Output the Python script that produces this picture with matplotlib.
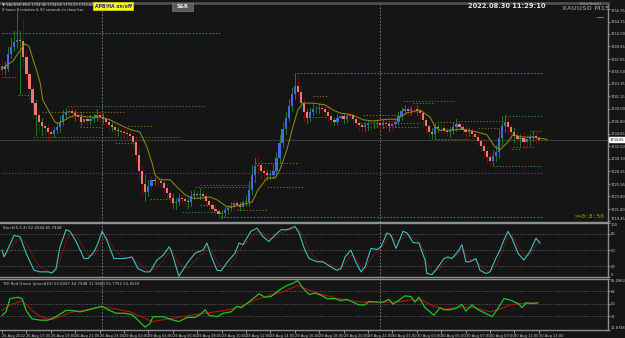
import matplotlib
matplotlib.use("Agg")
import matplotlib.pyplot as plt
from matplotlib.patches import Rectangle
from matplotlib.lines import Line2D
from matplotlib.transforms import blended_transform_factory

W, H = 625, 338
BG = '#151515'

# ---- price data (M15 bars, heikin ashi style closes) ----
first_open = 1745.8
closes = [
    1746.5, 1746.0, 1748.5, 1749.8, 1750.6, 1751.0, 1750.8, 1748.0, 1745.0, 1742.5,
    1740.0, 1738.0, 1736.8, 1736.0, 1735.6, 1735.0, 1734.7, 1735.3, 1735.8, 1736.8,
    1738.0, 1738.5, 1738.6, 1738.2, 1737.9, 1737.6, 1736.8, 1737.2, 1736.9, 1737.3,
    1737.5, 1738.0, 1737.6, 1737.3, 1736.8, 1736.2, 1735.8, 1735.4, 1735.2, 1735.0,
    1734.8, 1734.6, 1734.3, 1733.2, 1731.0, 1728.3, 1726.0, 1724.6, 1725.6, 1726.6,
    1726.4, 1726.5, 1726.2, 1725.3, 1724.4, 1723.6, 1722.7, 1722.9, 1723.5, 1723.3,
    1723.0, 1722.8, 1723.8, 1724.2, 1724.0, 1724.3, 1723.9, 1723.0, 1722.3, 1721.7,
    1721.2, 1720.8, 1721.0, 1721.4, 1721.8, 1722.2, 1722.6, 1722.3, 1722.0, 1722.8,
    1722.9, 1725.0, 1727.5, 1729.0, 1729.2, 1728.3, 1727.8, 1727.5, 1727.6, 1728.2,
    1730.5, 1733.0, 1735.5, 1737.5, 1739.5, 1741.5, 1743.0, 1742.0, 1740.0, 1738.4,
    1737.5, 1738.5, 1739.0, 1738.9, 1739.2, 1739.0, 1738.5, 1737.8, 1737.0, 1736.8,
    1737.5, 1737.7, 1737.3, 1737.8, 1737.9, 1737.2, 1736.5, 1736.2, 1735.8, 1736.2,
    1736.4, 1736.3, 1736.4, 1736.5, 1736.2, 1736.6, 1736.4, 1736.0, 1736.4, 1736.8,
    1737.8, 1738.6, 1739.0, 1738.6, 1738.9, 1739.0, 1738.7, 1738.2, 1737.0, 1736.0,
    1735.0, 1734.6, 1735.8, 1735.6, 1735.7, 1735.2, 1735.0, 1735.2, 1735.8, 1736.4,
    1735.9, 1735.4, 1734.9, 1735.2, 1734.7, 1734.2, 1733.5, 1732.6, 1731.6, 1730.6,
    1730.0, 1730.9, 1731.5, 1734.0, 1736.0, 1736.7, 1735.8, 1735.0, 1734.3, 1733.8,
    1733.9, 1733.2, 1733.7, 1734.1, 1734.3, 1733.9, 1733.65,
]
wick_up = [
    0.8, 0.6, 1.2, 1.5, 2.0, 5.0, 1.5, 4.0, 1.0, 0.8,
    0.6, 0.5, 0.8, 0.6, 0.5, 0.8, 0.5, 0.6, 0.7, 0.9,
    0.8, 0.6, 0.5, 0.7, 0.6, 0.5, 0.8, 0.6, 0.5, 0.7,
    0.6, 1.0, 0.5, 0.6, 0.5, 0.7, 0.5, 0.6, 0.4, 0.5,
    0.6, 0.5, 0.5, 0.7, 0.9, 1.2, 1.0, 1.5, 1.0, 0.8,
    0.6, 0.5, 0.7, 0.5, 0.6, 0.5, 0.7, 0.6, 0.8, 0.5,
    0.6, 0.5, 1.0, 0.8, 0.6, 0.9, 0.6, 0.5, 0.7, 0.5,
    0.6, 0.4, 0.5, 0.6, 0.5, 0.7, 0.6, 0.5, 0.6, 0.5,
    1.2, 1.5, 1.8, 1.5, 1.6, 1.0, 0.8, 0.7, 0.6, 1.2,
    1.0, 1.4, 1.2, 1.0, 1.3, 1.2, 2.2, 1.5, 1.0, 0.8,
    0.6, 0.7, 0.8, 0.5, 0.6, 0.5, 0.7, 0.6, 0.5, 0.5,
    0.6, 0.5, 0.6, 0.5, 0.7, 0.5, 0.6, 0.5, 0.4, 0.5,
    0.6, 0.5, 0.5, 0.6, 0.5, 0.7, 0.5, 0.5, 0.6, 0.5,
    0.6, 0.8, 0.7, 0.5, 0.6, 0.5, 0.6, 0.5, 0.5, 0.5,
    0.5, 0.6, 0.8, 0.5, 0.6, 0.5, 0.5, 0.6, 0.7, 0.8,
    0.5, 0.5, 0.6, 0.5, 0.5, 0.5, 0.6, 0.5, 0.5, 0.6,
    0.7, 0.9, 1.2, 1.5, 1.8, 1.3, 0.8, 0.6, 0.7, 0.9,
    0.8, 1.0, 0.7, 0.6, 0.8, 0.5, 0.4,
]
wick_dn = [
    0.8, 1.0, 0.5, 0.6, 0.8, 1.0, 9.3, 1.5, 1.2, 2.0,
    2.5, 3.5, 1.8, 1.5, 1.2, 1.5, 1.3, 0.6, 0.5, 0.8,
    0.6, 0.7, 0.5, 0.8, 1.0, 0.6, 0.8, 0.5, 0.7, 0.6,
    0.5, 0.6, 0.8, 0.7, 0.9, 1.0, 0.6, 1.5, 0.8, 1.2,
    0.7, 0.8, 0.6, 0.8, 1.0, 1.5, 1.8, 1.6, 0.8, 0.6,
    0.7, 0.6, 0.8, 1.0, 1.2, 0.8, 0.9, 1.0, 0.6, 0.7,
    0.8, 1.0, 0.6, 0.5, 0.7, 0.6, 0.8, 0.7, 0.9, 0.8,
    0.7, 0.9, 0.8, 0.7, 0.6, 0.5, 0.6, 0.8, 0.6, 0.5,
    0.6, 0.7, 0.8, 1.2, 1.0, 1.5, 1.2, 0.8, 0.7, 0.6,
    0.8, 0.9, 0.7, 0.8, 0.6, 0.8, 0.7, 1.0, 1.2, 1.5,
    0.9, 0.6, 0.5, 0.7, 0.6, 0.8, 0.7, 0.9, 0.8, 0.6,
    0.5, 0.6, 0.7, 0.5, 0.6, 0.8, 0.7, 0.9, 0.8, 0.6,
    0.8, 0.6, 0.7, 0.5, 0.8, 0.6, 0.7, 0.8, 0.5, 0.6,
    0.6, 0.7, 0.5, 0.8, 0.6, 0.5, 0.7, 0.9, 1.0, 1.2,
    1.0, 0.8, 0.9, 0.7, 0.8, 0.6, 0.7, 0.8, 0.6, 0.7,
    0.8, 0.7, 0.9, 0.6, 0.8, 0.7, 0.8, 0.9, 1.0, 1.2,
    1.0, 0.8, 0.9, 1.0, 1.2, 1.0, 1.2, 1.5, 1.0, 0.9,
    1.2, 1.0, 0.8, 0.9, 0.7, 0.8, 0.5,
]
# direction of the real candle behind each HA body: u = up (green), d = down (red)
real_dir = ("duuuuuuddd" "dududdduuu" "uuddududdu" "uududdudud" "ddddddduud"
            "uddddduuud" "duuududddd" "dduuuuddud" "uuuuddduuu" "uuuuuuuddd"
            "uuuuuddddu" "uduudddddu" "uduudududu" "uuudududdd" "duuuddduuu"
            "dddudddddd" "duuuuuddud" "udduudd")

ma_bar = [0, 3.6, 5.6, 7.5, 8.9, 10.2, 11.5, 12.5, 13.4, 15.7, 17.4, 18.4, 20.7, 22.3,
          24.6, 27.9, 32.1, 35.4, 38.7, 42.6, 45.2, 47.5, 49.2, 50.2, 51.8, 55.1, 57.4,
          60.0, 62.3, 64.9, 68.2, 70.5, 73.8, 75.7, 78.0, 82.0, 83.9, 86.9, 89.5, 91.1,
          93.4, 95.4, 97.0, 98.7, 102.0, 105.9, 108.5, 110.8, 115.1, 118.4, 121.6, 126.2,
          129.5, 132.8, 137.0, 140.3, 142.0, 143.6, 146.9, 151.1, 155.7, 159.0, 161.6,
          163.3, 165.6, 167.5, 170.8, 174.1, 178.7]
ma_val = [1746.0, 1747.3, 1748.9, 1750.3, 1749.8, 1747.5, 1745.4, 1743.5, 1740.5, 1738.3,
          1736.7, 1736.5, 1737.1, 1737.6, 1737.9, 1737.6, 1737.6, 1737.1, 1736.2, 1735.3,
          1735.0, 1732.4, 1729.6, 1727.5, 1726.7, 1726.7, 1725.4, 1724.1, 1723.5, 1723.5,
          1723.7, 1723.2, 1722.0, 1722.0, 1722.3, 1722.8, 1724.9, 1727.0, 1727.0, 1728.4,
          1731.9, 1735.9, 1738.8, 1740.0, 1740.0, 1739.7, 1738.8, 1738.3, 1737.9, 1737.1,
          1736.9, 1737.2, 1737.2, 1738.3, 1738.8, 1737.6, 1735.9, 1735.3, 1735.3, 1735.5,
          1735.0, 1734.5, 1732.4, 1731.9, 1733.1, 1734.5, 1734.1, 1734.1, 1733.7]

price_ticks = [1719.45, 1721.60, 1723.80, 1725.95, 1728.15, 1730.30, 1732.50, 1734.65,
               1736.80, 1739.00, 1741.15, 1743.35, 1745.50, 1747.65, 1749.85, 1752.00,
               1754.15, 1756.35]
last_price = 1733.65

# support / resistance dotted levels: (price, from bar, to bar, kind)
levels = [
    (1752.2, 0, 71.5, 'cyan'), (1745.2, 96.7, 177, 'cyan'), (1720.2, 71.5, 177, 'cyan'),
    (1727.9, 0, 177, 'purple'),
    (1739.5, 21.3, 66.6, 'green'), (1734.1, 10.2, 58.4, 'green'),
    (1744.5, 0, 5, 'brown'), (1741.4, 5.2, 9.2, 'brown'), (1738.5, 13.1, 40.3, 'brown'),
    (1735.9, 25.6, 32.1, 'brown'), (1736.0, 41.3, 49.5, 'brown'), (1733.1, 37.0, 44.3, 'brown'),
    (1725.4, 63.3, 81.3, 'brown'), (1725.8, 65.0, 81.3, 'green'), (1723.4, 48.5, 56.1, 'brown'),
    (1721.1, 59.0, 71.5, 'green'), (1722.3, 65.0, 70.0, 'brown'), (1729.6, 83.0, 96.7, 'brown'),
    (1725.4, 86.9, 98.7, 'brown'), (1721.4, 77.0, 86.9, 'brown'), (1741.2, 102.0, 107.2, 'brown'),
    (1737.6, 98.7, 106.6, 'brown'), (1737.9, 118.4, 130.5, 'brown'), (1736.6, 116.4, 137.0, 'green'),
    (1735.9, 119.7, 137.0, 'brown'), (1740.3, 131.5, 148.5, 'green'), (1740.0, 134.8, 142.0, 'brown'),
    (1736.7, 142.6, 148.5, 'brown'), (1736.9, 149.5, 165.0, 'green'), (1737.8, 165.3, 177.0, 'green'),
    (1735.7, 156.1, 163.3, 'brown'), (1733.8, 142.0, 153.4, 'green'), (1735.2, 173.1, 177.0, 'brown'),
    (1732.4, 167.5, 174.0, 'green'), (1732.0, 167.2, 169.8, 'brown'), (1729.0, 161.0, 177.0, 'green'),
]

# ---- stochastic ----
stoch_bar = [0, 0.7, 2.6, 3.9, 5.9, 7.9, 10.5, 12.5, 15.1, 16.4, 17.7, 19.0, 21.0, 22.3,
             24.3, 26.9, 28.2, 30.2, 31.5, 32.8, 34.1, 36.7, 40.0, 42.6, 44.6, 46.9, 48.5,
             50.8, 52.8, 54.8, 55.4, 58.0, 60.7, 63.3, 65.9, 67.2, 68.5, 70.5, 71.8, 74.4,
             76.4, 77.7, 79.0, 81.6, 83.6, 85.6, 87.5, 89.5, 91.5, 93.4, 96.1, 97.4, 99.3,
             100.7, 103.3, 105.2, 107.9, 109.8, 111.1, 112.5, 114.4, 115.7, 117.7, 119.0,
             121.0, 123.0, 124.3, 126.2, 127.5, 129.2, 131.5, 132.8, 134.8, 136.7, 138.7,
             139.3, 141.0, 143.0, 144.9, 146.2, 147.5, 149.5, 150.8, 152.1, 153.4, 155.4,
             156.7, 158.7, 160.0, 161.9, 163.3, 164.6, 165.9, 167.2, 169.2, 171.1, 173.1,
             175.1, 176.4]
stoch_k = [50, 37, 60, 77, 75, 44, 12, 9, 9, 7, 15, 56, 88, 85, 66, 34, 34, 47, 63, 85,
           72, 34, 34, 37, 15, 9, 9, 31, 40, 56, 50, 1, 25, 44, 50, 63, 40, 12, 11, 31,
           44, 63, 60, 85, 91, 75, 66, 78, 88, 88, 94, 82, 50, 34, 28, 28, 18, 12, 15, 37,
           50, 31, 9, 18, 53, 51, 56, 82, 78, 53, 85, 82, 64, 63, 31, 6, 4, 18, 34, 37,
           34, 47, 60, 28, 28, 34, 12, 6, 9, 34, 50, 69, 85, 72, 44, 31, 47, 72, 63]
stoch_d = [45, 42, 48, 62, 72, 62, 35, 18, 10, 8, 10, 30, 65, 80, 78, 52, 40, 40, 52, 68,
           75, 52, 36, 35, 26, 15, 10, 18, 30, 45, 50, 25, 15, 30, 44, 55, 50, 28, 18, 20,
           35, 50, 58, 72, 85, 82, 72, 72, 82, 86, 90, 88, 70, 48, 32, 28, 22, 16, 14, 25,
           40, 38, 20, 14, 35, 48, 53, 68, 78, 66, 72, 80, 72, 66, 45, 25, 10, 12, 24, 32,
           35, 40, 52, 42, 32, 30, 22, 12, 9, 20, 38, 55, 74, 78, 58, 40, 40, 58, 66]

# ---- TDI ----
tdi_green_bar = [0, 1.3, 2.6, 5.2, 6.6, 7.9, 9.8, 12.5, 15.1, 17.7, 21.0, 23.0, 25.6, 27.5,
                 30.2, 32.8, 34.8, 37.4, 40.0, 42.6, 44.6, 46.9, 48.5, 49.5, 52.8, 55.4,
                 58.0, 60.7, 63.3, 65.2, 66.6, 67.9, 70.5, 72.5, 75.1, 77.0, 78.4, 80.3,
                 82.3, 84.3, 86.2, 88.2, 90.8, 93.4, 95.4, 97.0, 98.7, 100.7, 102.6, 104.6,
                 106.6, 109.2, 111.1, 113.1, 115.1, 117.0, 119.0, 120.3, 123.0, 124.9, 126.9,
                 128.2, 130.2, 132.1, 134.1, 135.4, 136.7, 138.7, 140.3, 141.6, 143.6, 144.9,
                 146.9, 148.9, 150.8, 152.1, 154.1, 156.1, 158.0, 160.7, 162.6, 164.6, 166.6,
                 169.2, 170.5, 171.8, 173.8, 175.7]
tdi_green = [33, 38, 57, 59, 57, 40, 28, 26, 26, 31, 40, 40, 38, 40, 43, 46, 41, 36, 36, 34,
             26, 16, 21, 31, 31, 27, 24, 30, 30, 35, 41, 33, 31, 36, 38, 46, 44, 50, 57, 64,
             59, 60, 69, 76, 79, 83, 72, 63, 65, 62, 57, 57, 54, 56, 52, 48, 48, 53, 52, 52,
             56, 49, 55, 61, 60, 52, 59, 44, 38, 33, 44, 41, 41, 43, 49, 39, 48, 41, 37, 31,
             43, 57, 55, 50, 44, 51, 50, 51]
tdi_red_bar = [0, 2.6, 6.6, 9.8, 13.1, 16.4, 19.7, 23.0, 26.9, 30.8, 33.4, 37.4, 42.0, 45.2,
               49.2, 53.4, 57.7, 63.3, 68.2, 73.1, 78.0, 83.0, 87.9, 92.8, 97.0, 100.3,
               104.3, 109.2, 114.1, 119.0, 123.9, 128.9, 133.8, 137.7, 141.0, 145.2, 150.2,
               155.1, 160.0, 163.3, 166.6, 169.8, 175.7]
tdi_red = [40, 48, 54, 40, 30, 27, 32, 38, 40, 44, 45, 42, 38, 32, 24, 27, 30, 34, 37, 40,
           45, 55, 62, 68, 76, 70, 64, 58, 54, 52, 52, 52, 55, 55, 47, 42, 45, 44, 38, 42,
           48, 50, 51]

time_labels = ["26 Aug 2022", "26 Aug 17:00", "26 Aug 19:00", "26 Aug 21:00", "26 Aug 23:00",
               "29 Aug 02:00", "29 Aug 04:00", "29 Aug 06:00", "29 Aug 08:00", "29 Aug 10:00",
               "29 Aug 12:00", "29 Aug 14:00", "29 Aug 16:00", "29 Aug 18:00", "29 Aug 20:00",
               "29 Aug 22:00", "30 Aug 01:00", "30 Aug 03:00", "30 Aug 05:00", "30 Aug 07:00",
               "30 Aug 09:00", "30 Aug 11:00", "30 Aug 13:00"]
day_breaks = [32.7, 124.1]

LEVEL_COLORS = {'cyan': '#1b7d96', 'purple': '#862a86', 'green': '#2b7d2b', 'brown': '#7a6420'}
AXIS_FS = 2.6


def fx(px):
    return px / W


def fy(py):
    return 1 - py / H


def style_panel(ax, ylim):
    ax.set_facecolor(BG)
    ax.set_xlim(-0.66, 198.7)
    ax.set_ylim(*ylim)
    ax.spines['left'].set_visible(False)
    for side in ('right', 'top', 'bottom'):
        ax.spines[side].set_color('#8f8f8f')
        ax.spines[side].set_linewidth(1.0)
    ax.yaxis.tick_right()
    ax.tick_params(axis='y', labelsize=AXIS_FS, colors='#c8c8c8', length=1.5, width=0.5, pad=0.6)
    ax.tick_params(axis='x', bottom=False, labelbottom=False)
    for b in day_breaks:
        ax.axvline(b, color='#8a8a8a', lw=0.6, ls=(0, (2, 2)), zorder=1)


def edge_labels(ax):
    # keep the extreme labels inside their own panel
    labels = ax.get_yticklabels()
    labels[0].set_va('bottom')
    labels[-1].set_va('top')


def draw_price(ax):
    style_panel(ax, (1719.36, 1757.38))
    ax.spines['top'].set_color('#4d4d4d')
    ax.spines['top'].set_linewidth(2.0)
    ax.set_yticks(price_ticks)
    ax.set_yticklabels([f"{p:.2f}" for p in price_ticks])
    edge_labels(ax)

    for price, b0, b1, kind in levels:
        dots = (0, (1.2, 1.6)) if kind != 'cyan' else (0, (1.5, 1.5))
        ax.plot([b0, b1], [price, price], color=LEVEL_COLORS[kind], lw=0.8, ls=dots, zorder=2)

    ax.axhline(last_price, color='#3a3a3a', lw=0.8, zorder=1)

    opens = [first_open] + closes[:-1]
    for i, (o, c) in enumerate(zip(opens, closes)):
        hi = max(o, c) + wick_up[i]
        lo = min(o, c) - wick_dn[i]
        wc = '#1f9a1f' if real_dir[i] == 'u' else '#8e0a0a'
        ax.plot([i, i], [lo, hi], color=wc, lw=0.55, zorder=3)
        body = '#4169e1' if c >= o else '#f4776f'
        ax.bar(i, max(abs(c - o), 0.12), bottom=min(o, c), width=0.72,
               color=body, linewidth=0, zorder=4)

    ax.plot(ma_bar, ma_val, color='#8a8a10', lw=0.75, zorder=5)

    tr = blended_transform_factory(ax.transAxes, ax.transData)
    ax.text(1.003, last_price, "1733.65", transform=tr, fontsize=AXIS_FS, color='black',
            va='center', ha='left',
            bbox=dict(boxstyle='square,pad=0.12', fc='white', ec='white'))
    ax.text(0.995, 0.015, ">>0:8:50", transform=ax.transAxes, fontsize=4.4,
            family='DejaVu Sans Mono', color='#a5a500', ha='right', va='bottom')


def draw_stoch(ax):
    style_panel(ax, (-0.6, 100.6))
    ax.set_yticks([0, 20, 50, 80, 100])
    ax.set_yticklabels(["0", "20", "50", "80", "100"])
    edge_labels(ax)
    for lv in (20, 50, 80):
        ax.axhline(lv, color='#6a6a6a', lw=0.5, ls=(0, (2, 2)), zorder=1)
    ax.plot(stoch_bar, stoch_d, color='#b01515', lw=0.6, ls=(0, (1.5, 1)), zorder=2)
    ax.plot(stoch_bar, stoch_k, color='#3ec0c0', lw=0.8, zorder=3)
    ax.text(0.005, 0.95, "Stoch(5,3,3) 62.4044 65.7448", transform=ax.transAxes,
            fontsize=2.8, color='#c8c8c8', va='top')


def draw_tdi(ax):
    style_panel(ax, (11.87, 85.29))
    ax.set_yticks([11.87, 32, 50, 68, 85.29])
    ax.set_yticklabels(["11.8748", "32", "50", "68", "85.2863"])
    edge_labels(ax)
    for lv in (32, 50, 68):
        ax.axhline(lv, color='#6a6a6a', lw=0.5, ls=(0, (2, 2)), zorder=1)
    ax.plot(tdi_red_bar, tdi_red, color='#b51212', lw=0.8, zorder=2)
    ax.plot(tdi_green_bar, tdi_green, color='#22c322', lw=0.9, zorder=3)
    ax.text(0.005, 0.95, "TDI Red Green (pnor#23) 55.6097 44.7948 11.9600 55.7752 53.4539",
            transform=ax.transAxes, fontsize=2.8, color='#c8c8c8', va='top')

    ticks = [8 * k for k in range(len(time_labels))]
    ax.set_xticks(ticks)
    ax.set_xticklabels(time_labels)
    ax.tick_params(axis='x', bottom=True, labelbottom=True, labelsize=2.6,
                   colors='#c8c8c8', length=2, width=0.5, pad=0.8)
    for lbl in ax.get_xticklabels():
        lbl.set_ha('left')


def draw_header(fig):
    fig.text(fx(2), fy(4.5), "\u25bc XAUUSD,M15 1734.46 1734.66 1733.23 1733.65",
             fontsize=2.6, color='#d0d0d0', va='center')
    fig.text(fx(2), fy(10), "0 hours 8 minutes & 50 seconds to close bar",
             fontsize=2.6, color='#d0d0d0', va='center')
    fig.text(fx(113), fy(6), "APB/HA on/off", fontsize=3.3, weight='bold',
             color='#1c1ccc', ha='center', va='center',
             bbox=dict(boxstyle='square,pad=0.25', fc='#ffff00', ec='#d8d800', lw=0.5))
    fig.add_artist(Rectangle((fx(172), fy(10.5)), fx(21), 7.5 / H, transform=fig.transFigure,
                             fc='#5a5a5a', ec='#8a8a8a', lw=0.4))
    fig.text(fx(182.5), fy(6.8), "S&R", fontsize=3.6, weight='bold', color='#f0f0f0',
             ha='center', va='center')
    fig.text(fx(507), fy(6.5), "2022.08.30 11:29:10", fontsize=4.8, weight='bold',
             color='#e2e2e2', ha='center', va='center')
    fig.text(fx(591), fy(3), "ScreenShot@1", fontsize=2.2, color='#bdbdbd',
             ha='center', va='center')
    fig.text(fx(586), fy(8.5), "XAUUSD M15", fontsize=4.6, weight='bold', color='#787878',
             ha='center', va='center')
    fig.add_artist(Line2D([fx(597), fx(603)], [fy(16.5), fy(16.5)],
                          transform=fig.transFigure, color='#8a8a8a', lw=0.6))


def main():
    fig = plt.figure(figsize=(W / 100, H / 100), dpi=100, facecolor=BG)
    ax_price = fig.add_axes([0, fy(222), fx(608), fy(3) - fy(222)])
    ax_stoch = fig.add_axes([0, fy(277), fx(608), fy(223) - fy(277)])
    ax_tdi = fig.add_axes([0, fy(330), fx(608), fy(279) - fy(330)])

    draw_price(ax_price)
    draw_stoch(ax_stoch)
    draw_tdi(ax_tdi)
    draw_header(fig)

    fig.savefig("out.png", dpi=100, facecolor=BG)


if __name__ == "__main__":
    main()
